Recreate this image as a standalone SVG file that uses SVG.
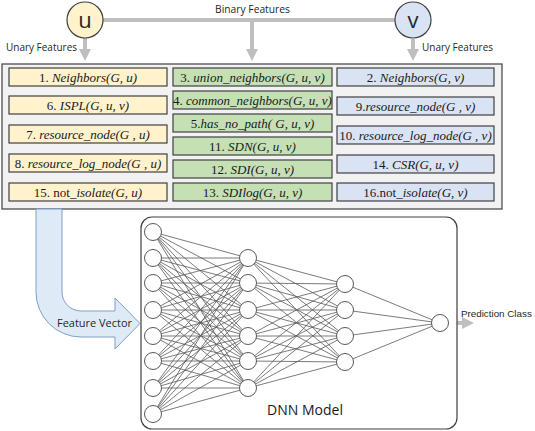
<svg xmlns="http://www.w3.org/2000/svg" width="535" height="431" viewBox="0 0 535 431">
<style>
.lbl{font-family:"Open Sans","Liberation Sans",sans-serif;font-size:10.5px;fill:#262626}
.bx{stroke:#404040;stroke-width:1.2}
.y{fill:#fff2cc}.g{fill:#c5e0b4}.b{fill:#dae3f3}
.ft{font-family:"Liberation Serif","DejaVu Serif",serif;font-size:13px;fill:#1a1a1a;text-anchor:middle}
.it{font-style:italic}
.gl{stroke:#bfbfbf;stroke-width:4;fill:none}
.nn{stroke:#595959;stroke-width:0.8}
.nd{fill:#fff;stroke:#595959;stroke-width:1}
</style>
<defs>
<marker id="ah" viewBox="0 0 10 10" refX="5" refY="5" markerWidth="3" markerHeight="3" orient="auto" markerUnits="strokeWidth">
<path d="M0,0 L10,5 L0,10 Z" fill="#bfbfbf"/>
</marker>
</defs>
<g id="connectors">
<path class="gl" d="M103,20 L395,20"/>
<path class="gl" d="M85,38 L85,55" marker-end="url(#ah)"/>
<path class="gl" d="M252,20 L252,55" marker-end="url(#ah)"/>
<path class="gl" d="M413,39 L413,55" marker-end="url(#ah)"/>
<path class="gl" d="M449,323 L468,323" marker-end="url(#ah)"/>
</g>
<text class="lbl" x="215" y="13" textLength="75" lengthAdjust="spacingAndGlyphs">Binary Features</text>
<text class="lbl" x="6" y="51" textLength="71" lengthAdjust="spacingAndGlyphs">Unary Features</text>
<text class="lbl" x="422" y="51" textLength="71" lengthAdjust="spacingAndGlyphs">Unary Features</text>
<g id="node-u"><circle cx="85" cy="20" r="18" fill="#fff2cc" stroke="#404040" stroke-width="1.2"/><text x="85" y="28" text-anchor="middle" font-family="Open Sans,Liberation Sans,sans-serif" font-size="22" fill="#262626">u</text></g>
<g id="node-v"><circle cx="413" cy="20" r="18" fill="#dae3f3" stroke="#404040" stroke-width="1.2"/><text x="413" y="28" text-anchor="middle" font-family="Open Sans,Liberation Sans,sans-serif" font-size="22" fill="#262626">v</text></g>
<g id="features-panel">
<rect x="2" y="64" width="500" height="145" fill="#f2f2f2" stroke="#404040" stroke-width="1.2"/>
</g>
<g id="unary-u">
<rect class="bx y" x="9" y="68" width="158" height="18"/><text class="ft" x="88" y="81.5">1. <tspan class="it">Neighbors(G, u)</tspan></text>
<rect class="bx y" x="9" y="96" width="158" height="18"/><text class="ft" x="88" y="109.5">6. <tspan class="it">ISPL(G, u, v)</tspan></text>
<rect class="bx y" x="9" y="125" width="158" height="18"/><text class="ft" x="88" y="138.5">7. <tspan class="it">resource_node(G , u)</tspan></text>
<rect class="bx y" x="9" y="154" width="158" height="18"/><text class="ft" x="88" y="167.5">8. <tspan class="it">resource_log_node(G , u)</tspan></text>
<rect class="bx y" x="9" y="183" width="158" height="18"/><text class="ft" x="88" y="196.5">15. not<tspan class="it">_isolate(G, u)</tspan></text>
</g>
<g id="binary">
<rect class="bx g" x="173" y="68" width="159" height="18"/><text class="ft" x="252.5" y="81.5">3. <tspan class="it">union_neighbors(G, u, v)</tspan></text>
<rect class="bx g" x="173" y="91" width="159" height="18"/><text class="ft" x="252.5" y="104.5">4. <tspan class="it">common_neighbors(G, u, v)</tspan></text>
<rect class="bx g" x="173" y="114" width="159" height="18"/><text class="ft" x="252.5" y="127.5">5.<tspan class="it">has_no_path( G, u, v)</tspan></text>
<rect class="bx g" x="173" y="137" width="159" height="18"/><text class="ft" x="252.5" y="150.5">11. <tspan class="it">SDN(G, u, v)</tspan></text>
<rect class="bx g" x="173" y="160" width="159" height="18"/><text class="ft" x="252.5" y="173.5">12. <tspan class="it">SDI(G, u, v)</tspan></text>
<rect class="bx g" x="173" y="183" width="159" height="18"/><text class="ft" x="252.5" y="196.5">13. <tspan class="it">SDIlog(G, u, v)</tspan></text>
</g>
<g id="unary-v">
<rect class="bx b" x="337" y="68" width="157" height="18"/><text class="ft" x="415.5" y="81.5">2. <tspan class="it">Neighbors(G, v)</tspan></text>
<rect class="bx b" x="337" y="97" width="157" height="18"/><text class="ft" x="415.5" y="110.5">9.<tspan class="it">resource_node(G , v)</tspan></text>
<rect class="bx b" x="337" y="126" width="157" height="18"/><text class="ft" x="415.5" y="139.5">10. <tspan class="it">resource_log_node(G , v)</tspan></text>
<rect class="bx b" x="337" y="155" width="157" height="18"/><text class="ft" x="415.5" y="168.5">14. <tspan class="it">CSR(G, u, v)</tspan></text>
<rect class="bx b" x="337" y="183" width="157" height="18"/><text class="ft" x="415.5" y="196.5">16.not<tspan class="it">_isolate(G, v)</tspan></text>
</g>
<g id="feature-vector">
<path d="M36,209 L36,292 A45,45 0 0 0 81,337 L115,337 L115,349 L140,323.5 L115,298 L115,311 L81,311 A19,19 0 0 1 62,292 L62,209 Z" fill="#deebf7" stroke="#7f9fc8" stroke-width="1"/>
<text x="57" y="327" font-family="Open Sans,Liberation Sans,sans-serif" font-size="11.5" fill="#262626" textLength="75" lengthAdjust="spacingAndGlyphs">Feature Vector</text>
</g>
<g id="dnn">
<rect x="141" y="217" width="316" height="212" rx="11" fill="#fff" stroke="#404040" stroke-width="1.2"/>
<g id="dnn-edges">
<path class="nn" d="M153,232L248,258M153,232L248,283M153,232L248,310M153,232L248,336M153,232L248,361M153,232L248,388
M153,258L248,258M153,258L248,283M153,258L248,310M153,258L248,336M153,258L248,361M153,258L248,388
M153,283L248,258M153,283L248,283M153,283L248,310M153,283L248,336M153,283L248,361M153,283L248,388
M153,310L248,258M153,310L248,283M153,310L248,310M153,310L248,336M153,310L248,361M153,310L248,388
M153,336L248,258M153,336L248,283M153,336L248,310M153,336L248,336M153,336L248,361M153,336L248,388
M153,361L248,258M153,361L248,283M153,361L248,310M153,361L248,336M153,361L248,361M153,361L248,388
M153,388L248,258M153,388L248,283M153,388L248,310M153,388L248,336M153,388L248,361M153,388L248,388
M153,414L248,258M153,414L248,283M153,414L248,310M153,414L248,336M153,414L248,361M153,414L248,388
M248,258L345,284M248,258L345,310M248,258L345,336M248,258L345,362
M248,283L345,284M248,283L345,310M248,283L345,336M248,283L345,362
M248,310L345,284M248,310L345,310M248,310L345,336M248,310L345,362
M248,336L345,284M248,336L345,310M248,336L345,336M248,336L345,362
M248,361L345,284M248,361L345,310M248,361L345,336M248,361L345,362
M248,388L345,284M248,388L345,310M248,388L345,336M248,388L345,362
M345,284L440,323M345,310L440,323M345,336L440,323M345,362L440,323"/>
</g>
<g id="dnn-nodes">
<circle class="nd" cx="153" cy="232" r="8.5"/><circle class="nd" cx="153" cy="258" r="8.5"/><circle class="nd" cx="153" cy="283" r="8.5"/><circle class="nd" cx="153" cy="310" r="8.5"/><circle class="nd" cx="153" cy="336" r="8.5"/><circle class="nd" cx="153" cy="361" r="8.5"/><circle class="nd" cx="153" cy="388" r="8.5"/><circle class="nd" cx="153" cy="414" r="8.5"/>
<circle class="nd" cx="248" cy="258" r="8.5"/><circle class="nd" cx="248" cy="283" r="8.5"/><circle class="nd" cx="248" cy="310" r="8.5"/><circle class="nd" cx="248" cy="336" r="8.5"/><circle class="nd" cx="248" cy="361" r="8.5"/><circle class="nd" cx="248" cy="388" r="8.5"/>
<circle class="nd" cx="345" cy="284" r="8.5"/><circle class="nd" cx="345" cy="310" r="8.5"/><circle class="nd" cx="345" cy="336" r="8.5"/><circle class="nd" cx="345" cy="362" r="8.5"/>
<circle class="nd" cx="440" cy="323" r="8.5"/>
</g>
<text x="305" y="415" text-anchor="middle" font-family="Open Sans,Liberation Sans,sans-serif" font-size="14" fill="#1a1a1a">DNN Model</text>
</g>
<text x="461" y="317" font-family="Liberation Sans,sans-serif" font-size="9.8" fill="#262626">Prediction Class</text>
</svg>
